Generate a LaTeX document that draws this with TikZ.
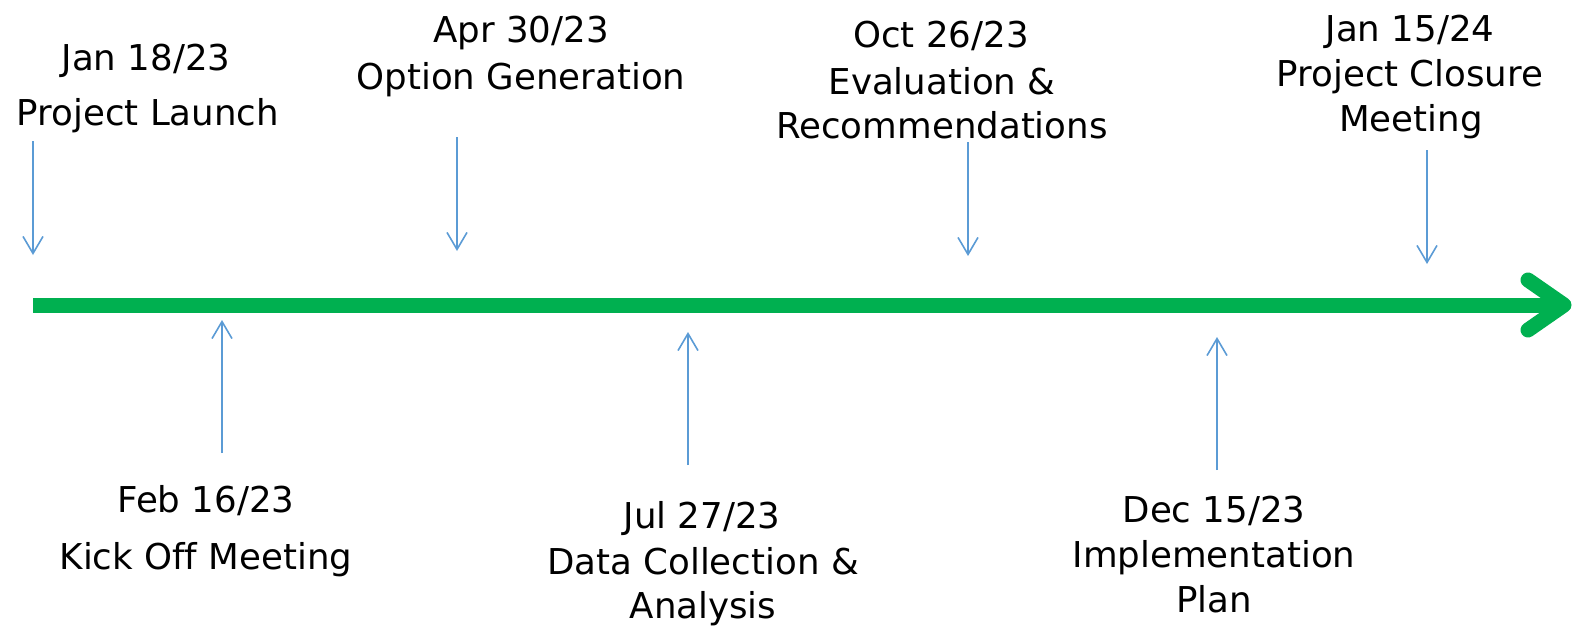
\documentclass[tikz,border=0pt]{standalone}
\usepackage{fontspec}
\setmainfont[Ligatures=NoCommon]{DejaVu Sans}
\usetikzlibrary{arrows.meta}
\definecolor{tlgreen}{HTML}{00B050}
\definecolor{tlblue}{HTML}{5B9BD5}
\begin{document}
\begin{tikzpicture}[x=0.5pt,y=-0.5pt,
  lbl/.style={anchor=base,inner sep=0pt,font=\fontsize{17.8pt}{21pt}\selectfont},
  pointer/.style={draw=tlblue,line width=0.8pt,-{Straight Barb[width=10pt,length=8.5pt,line width=0.8pt]}},
  timeline/.style={draw=tlgreen,line width=7.5pt}]
\useasboundingbox (0,0) rectangle (1573,627);
% timeline
\coordinate (ls) at (33,305);
\coordinate (le) at (1562,305);
\coordinate (tip) at (1564,305);
\coordinate (au) at (1528,280);
\coordinate (al) at (1528,330);
\draw[timeline,line cap=butt] (ls) -- (le);
\draw[timeline,line cap=round,line join=round] (au) -- (tip) -- (al);
% labels above
\node[lbl] (d1) at (146,70) {Jan 18/23};
\node[lbl] (t1) at (148,125) {Project Launch};
\node[lbl] (d3) at (521,42) {Apr 30/23};
\node[lbl] (t3) at (521,89) {Option Generation};
\node[lbl] (d5) at (941,47) {Oct 26/23};
\node[lbl] (t5a) at (942,94) {Evaluation \&};
\node[lbl] (t5b) at (942,138) {Recommendations};
\node[lbl] (d7) at (1410,41) {Jan 15/24};
\node[lbl] (t7a) at (1410,86) {Project Closure};
\node[lbl] (t7b) at (1411,131) {Meeting};
% labels below
\node[lbl] (d2) at (206,512) {Feb 16/23};
\node[lbl] (t2) at (206,569) {Kick Off Meeting};
\node[lbl] (d4) at (702,528) {Jul 27/23};
\node[lbl] (t4a) at (703,574) {Data Collection \&};
\node[lbl] (t4b) at (703,618) {Analysis};
\node[lbl] (d6) at (1214,522) {Dec 15/23};
\node[lbl] (t6a) at (1214,567) {Implementation};
\node[lbl] (t6b) at (1214,612) {Plan};
% pointer coordinates
\coordinate (p1s) at (33,141);   \coordinate (p1e) at (33,255);
\coordinate (p3s) at (457,137);  \coordinate (p3e) at (457,251);
\coordinate (p5s) at (968,142);  \coordinate (p5e) at (968,256);
\coordinate (p7s) at (1427,150); \coordinate (p7e) at (1427,264);
\coordinate (p2s) at (222,453);  \coordinate (p2e) at (222,320);
\coordinate (p4s) at (688,465);  \coordinate (p4e) at (688,332);
\coordinate (p6s) at (1217,470); \coordinate (p6e) at (1217,337);
\draw[pointer] (p1s) -- (p1e);
\draw[pointer] (p3s) -- (p3e);
\draw[pointer] (p5s) -- (p5e);
\draw[pointer] (p7s) -- (p7e);
\draw[pointer] (p2s) -- (p2e);
\draw[pointer] (p4s) -- (p4e);
\draw[pointer] (p6s) -- (p6e);
\end{tikzpicture}
\end{document}
